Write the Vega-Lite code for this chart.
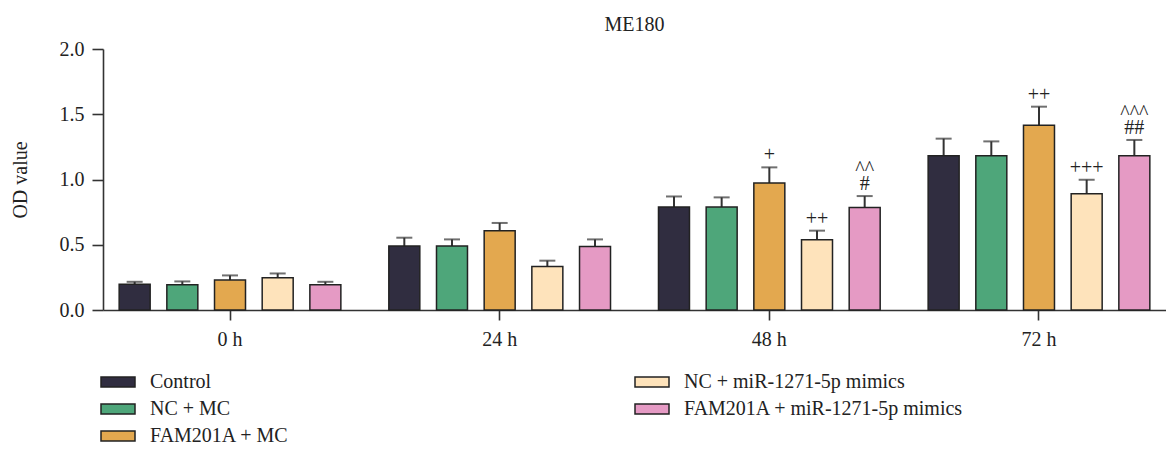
{
  "$schema": "https://vega.github.io/schema/vega-lite/v6.json",
  "autosize": {"type": "none"},
  "padding": {"left": 103, "top": 49, "right": 0, "bottom": 140},
  "width": 1063,
  "height": 261,
  "background": "white",
  "config": {
    "view": {"stroke": null},
    "font": "Liberation Serif",
    "axis": {"labelFont": "Liberation Serif", "titleFont": "Liberation Serif", "labelColor": "#222", "titleColor": "#222", "domainColor": "#333", "tickColor": "#333", "domainWidth": 1.6, "tickWidth": 1.6, "grid": false, "labelFontSize": 20, "titleFontSize": 20, "titleFontWeight": "normal"}
  },
  "title": {"text": "ME180", "font": "Liberation Serif", "fontSize": 20, "fontWeight": "normal", "color": "#222", "offset": 4, "anchor": "middle"},
  "data": {
    "values": [
      {"time": "0 h", "group": "Control", "value": 0.198, "err": 0.216, "lab1": "", "lab2": ""},
      {"time": "0 h", "group": "NC + MC", "value": 0.193, "err": 0.219, "lab1": "", "lab2": ""},
      {"time": "0 h", "group": "FAM201A + MC", "value": 0.229, "err": 0.265, "lab1": "", "lab2": ""},
      {"time": "0 h", "group": "NC + miR-1271-5p mimics", "value": 0.247, "err": 0.28, "lab1": "", "lab2": ""},
      {"time": "0 h", "group": "FAM201A + miR-1271-5p mimics", "value": 0.193, "err": 0.216, "lab1": "", "lab2": ""},
      {"time": "24 h", "group": "Control", "value": 0.49, "err": 0.554, "lab1": "", "lab2": ""},
      {"time": "24 h", "group": "NC + MC", "value": 0.49, "err": 0.541, "lab1": "", "lab2": ""},
      {"time": "24 h", "group": "FAM201A + MC", "value": 0.608, "err": 0.667, "lab1": "", "lab2": ""},
      {"time": "24 h", "group": "NC + miR-1271-5p mimics", "value": 0.334, "err": 0.378, "lab1": "", "lab2": ""},
      {"time": "24 h", "group": "FAM201A + miR-1271-5p mimics", "value": 0.487, "err": 0.541, "lab1": "", "lab2": ""},
      {"time": "48 h", "group": "Control", "value": 0.789, "err": 0.87, "lab1": "", "lab2": ""},
      {"time": "48 h", "group": "NC + MC", "value": 0.789, "err": 0.863, "lab1": "", "lab2": ""},
      {"time": "48 h", "group": "FAM201A + MC", "value": 0.973, "err": 1.093, "lab1": "+", "lab2": ""},
      {"time": "48 h", "group": "NC + miR-1271-5p mimics", "value": 0.539, "err": 0.608, "lab1": "++", "lab2": ""},
      {"time": "48 h", "group": "FAM201A + miR-1271-5p mimics", "value": 0.786, "err": 0.873, "lab1": "#", "lab2": "^^"},
      {"time": "72 h", "group": "Control", "value": 1.182, "err": 1.313, "lab1": "", "lab2": ""},
      {"time": "72 h", "group": "NC + MC", "value": 1.182, "err": 1.292, "lab1": "", "lab2": ""},
      {"time": "72 h", "group": "FAM201A + MC", "value": 1.415, "err": 1.558, "lab1": "++", "lab2": ""},
      {"time": "72 h", "group": "NC + miR-1271-5p mimics", "value": 0.891, "err": 0.998, "lab1": "+++", "lab2": ""},
      {"time": "72 h", "group": "FAM201A + miR-1271-5p mimics", "value": 1.182, "err": 1.303, "lab1": "##", "lab2": "^^^"}
    ]
  },
  "encoding": {
    "x": {"field": "time", "type": "nominal", "sort": ["0 h", "24 h", "48 h", "72 h"],
      "scale": {"paddingInner": 0.116, "paddingOuter": 0.029},
      "axis": {"title": null, "labelAngle": 0, "tickSize": 10, "labelPadding": 9, "domainWidth": 1.6}},
    "xOffset": {"field": "group", "type": "nominal",
      "sort": ["Control", "NC + MC", "FAM201A + MC", "NC + miR-1271-5p mimics", "FAM201A + miR-1271-5p mimics"],
      "scale": {"paddingInner": 0.35, "paddingOuter": 0.175}}
  },
  "layer": [
    {
      "mark": {"type": "rule", "color": "#333", "strokeWidth": 2},
      "encoding": {
        "y": {"field": "value", "type": "quantitative"},
        "y2": {"field": "err"}
      }
    },
    {
      "mark": {"type": "tick", "color": "#333", "size": 16, "thickness": 2, "orient": "horizontal"},
      "encoding": {
        "y": {"field": "err", "type": "quantitative"}
      }
    },
    {
      "mark": {"type": "bar", "stroke": "#222", "strokeWidth": 1.5},
      "encoding": {
        "y": {"field": "value", "type": "quantitative", "scale": {"domain": [0, 2]},
          "axis": {"title": "OD value", "values": [0, 0.5, 1, 1.5, 2], "format": ".1f", "tickSize": 11, "labelPadding": 8, "titlePadding": 29}},
        "color": {"field": "group", "type": "nominal",
          "scale": {"domain": ["Control", "NC + miR-1271-5p mimics", "NC + MC", "FAM201A + miR-1271-5p mimics", "FAM201A + MC"],
            "range": ["#302d40", "#fee3bb", "#4ea67a", "#e59ac4", "#e3a84f"]},
          "legend": {"title": null, "orient": "none", "legendX": 5, "legendY": 323, "columns": 2, "direction": "horizontal",
            "columnPadding": 343, "rowPadding": 7, "padding": 0,
            "symbolType": "M-3.4,-1h6.8v2h-6.8z", "symbolSize": 100, "symbolStrokeColor": "#222", "symbolStrokeWidth": 1.5, "symbolOpacity": 1,
            "labelFont": "Liberation Serif", "labelFontSize": 20, "labelColor": "#222", "labelOffset": 22, "labelLimit": 400}}
      }
    },
    {
      "mark": {"type": "text", "fontSize": 20, "color": "#222", "baseline": "middle", "dy": -12},
      "encoding": {"y": {"field": "err", "type": "quantitative"}, "text": {"field": "lab1"}}
    },
    {
      "mark": {"type": "text", "fontSize": 20, "color": "#222", "baseline": "middle", "dy": -27},
      "encoding": {"y": {"field": "err", "type": "quantitative"}, "text": {"field": "lab2"}}
    }
  ]
}
